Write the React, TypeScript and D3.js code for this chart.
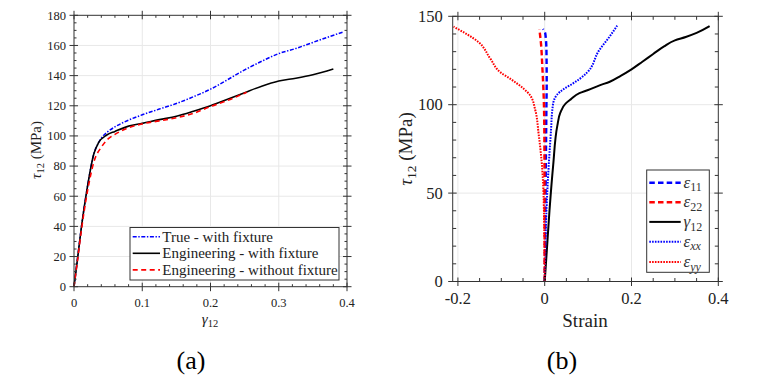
import React from 'react';
import * as d3 from 'd3';

// ---------- Panel (a) data ----------
const gammaEng = [0, 0.005, 0.011, 0.0196, 0.029, 0.036, 0.048, 0.06, 0.08, 0.1, 0.125, 0.15, 0.175, 0.2, 0.225, 0.25, 0.275, 0.3, 0.325, 0.35, 0.38];
const tauEng = [0, 18, 40, 66, 88, 95.5, 100.6, 103, 106.5, 108.3, 110.8, 113, 116.3, 120, 124.3, 128.7, 133, 136.4, 138.3, 140.6, 144.4];
const gammaNoFix = [0, 0.005, 0.011, 0.02, 0.03, 0.04, 0.05, 0.06, 0.08, 0.1, 0.125, 0.15, 0.175, 0.2, 0.225, 0.253];
const tauNoFix = [0, 17, 38, 64, 84, 92.5, 98, 101, 105.5, 108, 110, 112, 115, 119.5, 123.5, 129];
const gammaTrue = [0, 0.005, 0.011, 0.0196, 0.029, 0.036, 0.04, 0.05, 0.06, 0.08, 0.1, 0.125, 0.15, 0.175, 0.2, 0.225, 0.25, 0.275, 0.3, 0.325, 0.35, 0.375, 0.395];
const tauTrue = [0, 18, 40, 66, 88, 95.5, 98.5, 103, 106, 110.5, 114, 117.8, 121.5, 126, 131, 137.3, 143.8, 149.5, 154.6, 158, 162, 166, 169];
const legendA = ['True - with fixture', 'Engineering - with fixture', 'Engineering - without fixture'];
const xTicksA = [0, 0.1, 0.2, 0.3, 0.4];
const yTicksA = [0, 20, 40, 60, 80, 100, 120, 140, 160, 180];

// ---------- Panel (b) data ----------
const e11Strain = [0, 0.001, 0.002, 0.003, 0.004, 0.0046, 0.004, 0.0015, -0.004];
const e11Tau = [0, 25, 50, 75, 100, 111.7, 130.6, 140, 142.8];
const e22Strain = [0, -0.0003, -0.0008, -0.0023, -0.0054, -0.0085, -0.0123];
const e22Tau = [0, 40, 83.5, 104.2, 121, 134.4, 142.8];
const exxStrain = [0, 0.005, 0.009, 0.014, 0.019, 0.028, 0.044, 0.063, 0.08, 0.098, 0.125, 0.148, 0.167];
const exxTau = [0, 45.8, 64.6, 83.5, 100, 105.5, 108.9, 111.7, 114.5, 118.3, 130.6, 138, 144.7];
const eyyStrain = [0, -0.0023, -0.006, -0.014, -0.0215, -0.033, -0.048, -0.079, -0.102, -0.125, -0.152, -0.21];
const eyyTau = [0, 45.8, 64.6, 83.5, 96.7, 105.1, 108.9, 114.6, 118.3, 125.9, 135.3, 144.1];
const xTicksB = [-0.2, 0, 0.2, 0.4];
const yTicksB = [0, 50, 100, 150];

const FONT = "'Liberation Serif'";
const BLUE = '#0000ff';
const RED = '#ff0000';
const GRID = '#e8e8e8';
const AXIS = '#333';

type Scale = d3.ScaleLinear<number, number>;

function zip(xs: number[], ys: number[]): [number, number][] {
  return xs.map((v, i) => [v, ys[i]]);
}

function range(a: number, b: number, s: number): number[] {
  const out: number[] = [];
  const n = Math.round((b - a) / s);
  for (let i = 0; i <= n; i++) out.push(+(a + i * s).toFixed(6));
  return out;
}

function fmt(v: number): string {
  return String(+v.toFixed(3));
}

const TS: React.CSSProperties = { fontFamily: FONT };

interface FrameProps {
  x: Scale; y: Scale;
  xMajor: number[]; xMinor: number[];
  yMajor: number[]; yMinor: number[];
  fs: number; xLabelBase: number; yLabelGap: number;
  tout: number; tin: number; tmin: number;
}

function Frame(p: FrameProps) {
  const [x0, x1] = p.x.range();
  const [y0, y1] = p.y.range();
  const els: React.ReactNode[] = [];
  p.xMajor.forEach((v, i) => {
    const px = p.x(v);
    els.push(<line key={'xb' + i} x1={px} x2={px} y1={y0 + p.tout} y2={y0 - p.tin} stroke={AXIS} strokeWidth={1} />);
    els.push(<line key={'xt' + i} x1={px} x2={px} y1={y1 - p.tout} y2={y1 + p.tin} stroke={AXIS} strokeWidth={1} />);
    els.push(<text key={'xl' + i} x={px} y={p.xLabelBase} textAnchor="middle" fontSize={p.fs} style={TS} fill="#222">{fmt(v)}</text>);
  });
  p.xMinor.forEach((v, i) => {
    const px = p.x(v);
    els.push(<line key={'xmb' + i} x1={px} x2={px} y1={y0} y2={y0 - p.tmin} stroke={AXIS} strokeWidth={1} />);
    els.push(<line key={'xmt' + i} x1={px} x2={px} y1={y1} y2={y1 + p.tmin} stroke={AXIS} strokeWidth={1} />);
  });
  p.yMajor.forEach((v, i) => {
    const py = p.y(v);
    els.push(<line key={'yl' + i} x1={x0 - p.tout} x2={x0 + p.tin} y1={py} y2={py} stroke={AXIS} strokeWidth={1} />);
    els.push(<line key={'yr' + i} x1={x1 + p.tout} x2={x1 - p.tin} y1={py} y2={py} stroke={AXIS} strokeWidth={1} />);
    els.push(<text key={'ylab' + i} x={x0 - p.yLabelGap} y={py} dy="0.35em" textAnchor="end" fontSize={p.fs} style={TS} fill="#222">{fmt(v)}</text>);
  });
  p.yMinor.forEach((v, i) => {
    const py = p.y(v);
    els.push(<line key={'yml' + i} x1={x0} x2={x0 + p.tmin} y1={py} y2={py} stroke={AXIS} strokeWidth={1} />);
    els.push(<line key={'ymr' + i} x1={x1} x2={x1 - p.tmin} y1={py} y2={py} stroke={AXIS} strokeWidth={1} />);
  });
  return (
    <g>
      <rect x={x0} y={y1} width={x1 - x0} height={y0 - y1} fill="none" stroke={AXIS} strokeWidth={1} />
      {els}
    </g>
  );
}

function Grid({ x, y, xs, ys }: { x: Scale; y: Scale; xs: number[]; ys: number[] }) {
  const [x0, x1] = x.range();
  const [y0, y1] = y.range();
  return (
    <g>
      {xs.map((v, i) => <line key={'gx' + i} x1={x(v)} x2={x(v)} y1={y0} y2={y1} stroke={GRID} strokeWidth={1} />)}
      {ys.map((v, i) => <line key={'gy' + i} x1={x0} x2={x1} y1={y(v)} y2={y(v)} stroke={GRID} strokeWidth={1} />)}
    </g>
  );
}

export default function App() {
  const xA = d3.scaleLinear().domain([0, 0.4]).range([74, 347]);
  const yA = d3.scaleLinear().domain([0, 180]).range([286.7, 15.3]);
  const lineA = d3.line<[number, number]>().x(d => xA(d[0])).y(d => yA(d[1])).curve(d3.curveMonotoneX);
  const minorXA = range(0, 0.4, 0.02).filter(v => !xTicksA.some(t => Math.abs(t - v) < 1e-6));
  const minorYA = range(0, 180, 5).filter(v => !yTicksA.includes(v));

  const xB = d3.scaleLinear().domain([-0.212, 0.4]).range([452.7, 718.3]);
  const yB = d3.scaleLinear().domain([0, 150]).range([281.5, 16.3]);
  const lineB = d3.line<[number, number]>().x(d => xB(d[0])).y(d => yB(d[1])).curve(d3.curveMonotoneY);
  const minorXB = range(-0.2, 0.4, 0.05).filter(v => !xTicksB.some(t => Math.abs(t - v) < 1e-6));
  const minorYB = range(0, 150, 10).filter(v => !yTicksB.includes(v));

  const legA = { x: 130, y: 227.5, w: 209, h: 52.5 };
  const legAItems = [
    { color: BLUE, dash: '4,1.6,1.4,1.6', width: 1.5 },
    { color: '#000', dash: undefined, width: 1.6 },
    { color: RED, dash: '5,3.5', width: 1.6 },
  ];

  const legB = { x: 646.7, y: 170, w: 62.6, h: 102.3 };
  const legBItems = [
    { color: BLUE, dash: '5.5,3.2', width: 2.4, sym: 'ε', sub: '11', italicSub: false },
    { color: RED, dash: '5.5,3.2', width: 2.4, sym: 'ε', sub: '22', italicSub: false },
    { color: '#000', dash: undefined, width: 2, sym: 'γ', sub: '12', italicSub: false },
    { color: BLUE, dash: '1.6,1.2', width: 2, sym: 'ε', sub: 'xx', italicSub: true },
    { color: RED, dash: '1.6,1.2', width: 2, sym: 'ε', sub: 'yy', italicSub: true },
  ];
  const legBY = [182.7, 202.3, 221.9, 241.7, 262];

  return (
    <svg width={780} height={384} style={{ display: 'block', position: 'absolute', left: 0, top: 0, fontFamily: FONT }}>
      <rect width={780} height={384} fill="#fff" />

      {/* ---------- Panel (a) ---------- */}
      <Grid x={xA} y={yA} xs={[0.1, 0.2, 0.3]} ys={[20, 40, 60, 80, 100, 120, 140, 160]} />
      <path d={lineA(zip(gammaTrue, tauTrue)) || ''} fill="none" stroke={BLUE} strokeWidth={1.5} strokeDasharray="4,1.6,1.4,1.6" />
      <path d={lineA(zip(gammaEng, tauEng)) || ''} fill="none" stroke="#000" strokeWidth={1.6} />
      <path d={lineA(zip(gammaNoFix, tauNoFix)) || ''} fill="none" stroke={RED} strokeWidth={1.6} strokeDasharray="5,3.5" />
      <Frame x={xA} y={yA} xMajor={xTicksA} xMinor={minorXA} yMajor={yTicksA} yMinor={minorYA}
        fs={12.5} xLabelBase={307} yLabelGap={8} tout={4.5} tin={4} tmin={2.5} />
      <g>
        <rect x={legA.x} y={legA.y} width={legA.w} height={legA.h} fill="#fff" stroke={AXIS} strokeWidth={1} />
        {legendA.map((t, i) => {
          const cy = legA.y + 9.2 + i * 16.6;
          const it = legAItems[i];
          return (
            <g key={'la' + i}>
              <line x1={132.7} x2={160} y1={cy} y2={cy} stroke={it.color} strokeWidth={it.width} strokeDasharray={it.dash} />
              <text x={162.3} y={cy} dy="0.33em" fontSize={15} style={TS} fill="#222">{t}</text>
            </g>
          );
        })}
      </g>
      <text transform="translate(41,150) rotate(-90)" textAnchor="middle" fontSize={15} style={TS} fill="#222">
        <tspan fontStyle="italic">τ</tspan><tspan fontSize={10.5} dy={3}>12</tspan><tspan dy={-3}> (MPa)</tspan>
      </text>
      <text x={210} y={324} textAnchor="middle" fontSize={15} style={TS} fill="#222">
        <tspan fontStyle="italic">γ</tspan><tspan fontSize={10.5} dy={3}>12</tspan>
      </text>
      <text x={191} y={369} textAnchor="middle" fontSize={26} style={TS} fill="#000">(a)</text>

      {/* ---------- Panel (b) ---------- */}
      <Grid x={xB} y={yB} xs={[-0.2, 0, 0.2]} ys={[50, 100]} />
      <path d={lineB(zip(e11Strain, e11Tau)) || ''} fill="none" stroke={BLUE} strokeWidth={2.4} strokeDasharray="5.5,3.2" />
      <path d={lineB(zip(e22Strain, e22Tau)) || ''} fill="none" stroke={RED} strokeWidth={2.4} strokeDasharray="5.5,3.2" />
      <path d={lineB(zip(gammaEng, tauEng)) || ''} fill="none" stroke="#000" strokeWidth={2} />
      <path d={lineB(zip(exxStrain, exxTau)) || ''} fill="none" stroke={BLUE} strokeWidth={2} strokeDasharray="1.6,1.2" />
      <path d={lineB(zip(eyyStrain, eyyTau)) || ''} fill="none" stroke={RED} strokeWidth={2} strokeDasharray="1.6,1.2" />
      <Frame x={xB} y={yB} xMajor={xTicksB} xMinor={minorXB} yMajor={yTicksB} yMinor={minorYB}
        fs={16.5} xLabelBase={304} yLabelGap={10} tout={4.5} tin={4} tmin={3.5} />
      <g>
        <rect x={legB.x} y={legB.y} width={legB.w} height={legB.h} fill="#fff" stroke={AXIS} strokeWidth={1} />
        {legBItems.map((it, i) => {
          const cy = legBY[i];
          return (
            <g key={'lb' + i}>
              <line x1={649.3} x2={680.7} y1={cy} y2={cy} stroke={it.color} strokeWidth={it.width} strokeDasharray={it.dash} />
              <text x={683.5} y={cy} dy="0.3em" fontSize={17} style={TS} fill="#333">
                <tspan fontStyle="italic">{it.sym}</tspan>
                <tspan fontSize={12} dy={3.5} fontStyle={it.italicSub ? 'italic' : 'normal'}>{it.sub}</tspan>
              </text>
            </g>
          );
        })}
      </g>
      <text transform="translate(412,149) rotate(-90)" textAnchor="middle" fontSize={19} style={TS} fill="#222">
        <tspan fontStyle="italic">τ</tspan><tspan fontSize={13.5} dy={4}>12</tspan><tspan dy={-4}> (MPa)</tspan>
      </text>
      <text x={585} y={326.5} textAnchor="middle" fontSize={19} style={TS} fill="#222">Strain</text>
      <text x={562} y={369} textAnchor="middle" fontSize={26} style={TS} fill="#000">(b)</text>
    </svg>
  );
}
